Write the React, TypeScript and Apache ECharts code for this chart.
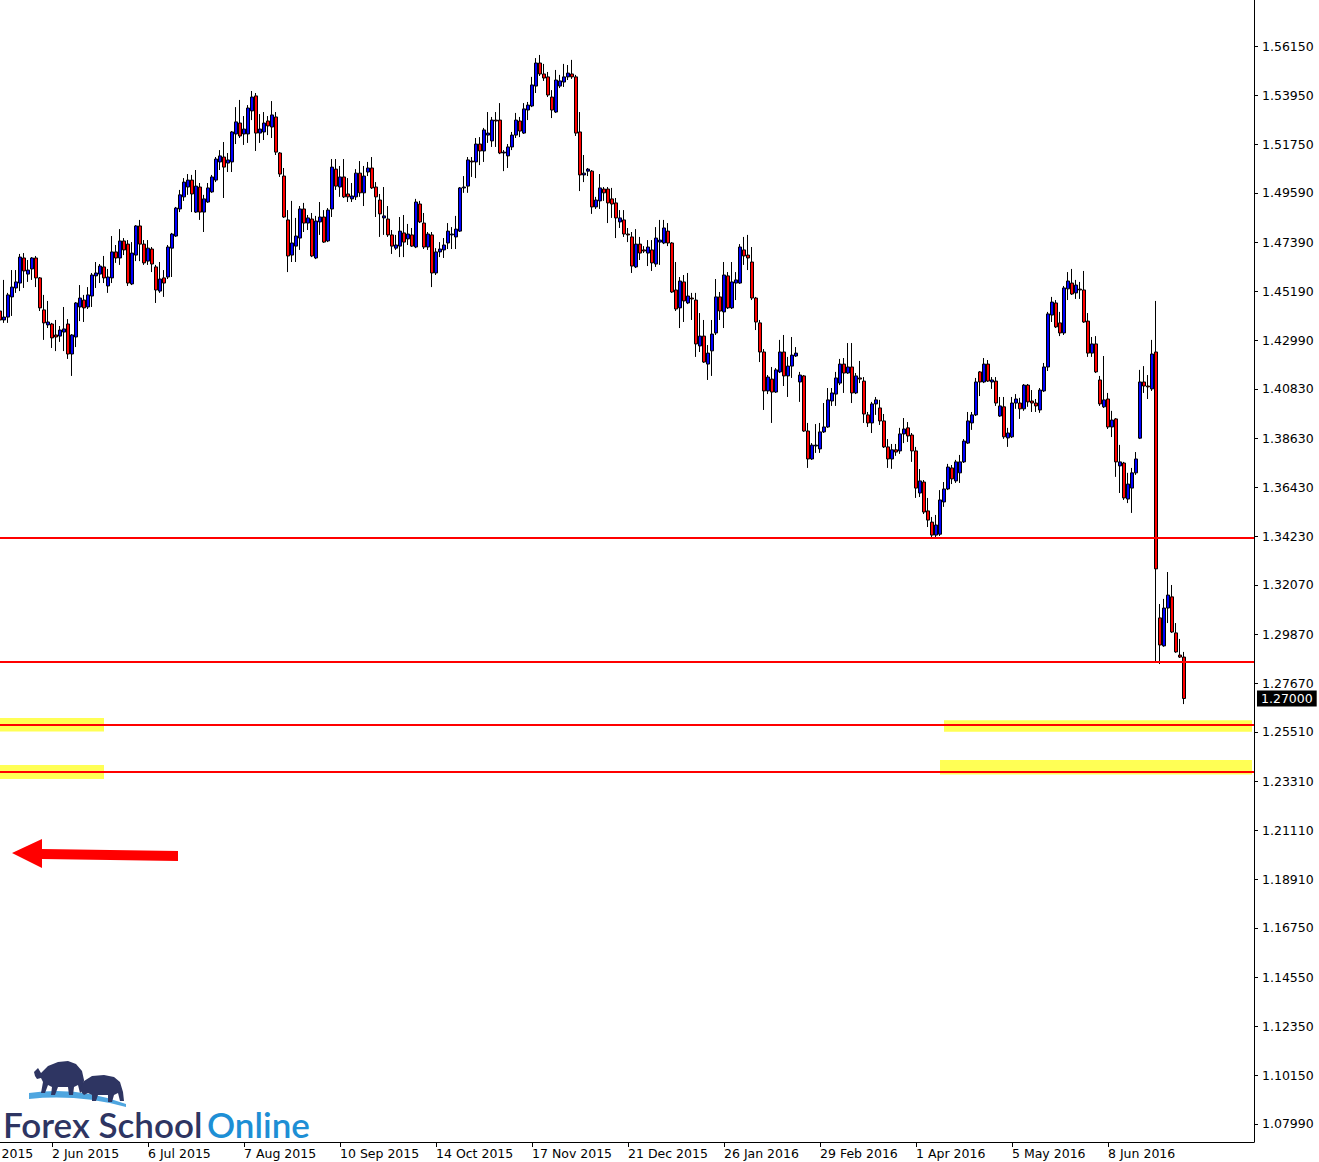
import React, { useEffect, useRef } from 'react';
import * as echarts from 'echarts';

// ---------- data ----------
const priceTickValues = [
  1.5615, 1.5395, 1.5175, 1.4959, 1.4739, 1.4519, 1.4299, 1.4083, 1.3863, 1.3643, 1.3423, 1.3207,
  1.2987, 1.2767, 1.2551, 1.2331, 1.2111, 1.1891, 1.1675, 1.1455, 1.1235, 1.1015, 1.0799,
];
const priceMin = 1.071858;
const priceMax = 1.582051;

const firstCategoryDate = '2015-04-29';
const categoryCount = 325;
const holidays = ['2015-12-25', '2016-01-01'];
const firstCandleDate = '14 May 2015';
const monthNames = ['Jan', 'Feb', 'Mar', 'Apr', 'May', 'Jun', 'Jul', 'Aug', 'Sep', 'Oct', 'Nov', 'Dec'];

// horizontal support / resistance levels
const levelLines = [1.3417, 1.2863, 1.2583, 1.2373];
const bidPrice = 1.27;

// yellow zones: [fromDate, toDate, top, bottom]
const zones: [string, string, number, number][] = [
  ['14 May 2015', '19 Jun 2015', 1.2613, 1.2552],
  ['14 May 2015', '19 Jun 2015', 1.2403, 1.234],
  ['12 Apr 2016', '28 Jul 2016', 1.2603, 1.2551],
  ['11 Apr 2016', '28 Jul 2016', 1.2425, 1.236],
];

// daily candles [open, close, low, high], 14 May 2015 .. 5 Jul 2016
const candles: number[][] = [
  [1.4431, 1.4391, 1.4355, 1.4471],
  [1.4391, 1.4404, 1.4378, 1.457],
  [1.4404, 1.4503, 1.4378, 1.4512],
  [1.4494, 1.4538, 1.4409, 1.4614],
  [1.4534, 1.4561, 1.4512, 1.4614],
  [1.4556, 1.4672, 1.452, 1.4686],
  [1.4668, 1.461, 1.4534, 1.469],
  [1.4596, 1.4614, 1.4561, 1.4659],
  [1.4619, 1.4668, 1.457, 1.4672],
  [1.4668, 1.4579, 1.4538, 1.4677],
  [1.4579, 1.4445, 1.4431, 1.4583],
  [1.4436, 1.4378, 1.4302, 1.4503],
  [1.4369, 1.4382, 1.4355, 1.4476],
  [1.4373, 1.4311, 1.4266, 1.4378],
  [1.4324, 1.4315, 1.4252, 1.4391],
  [1.4319, 1.4346, 1.4293, 1.4364],
  [1.4337, 1.4351, 1.4252, 1.4449],
  [1.4373, 1.4239, 1.4217, 1.4395],
  [1.4239, 1.4324, 1.4141, 1.4328],
  [1.4315, 1.4467, 1.427, 1.4471],
  [1.4449, 1.4489, 1.4386, 1.4547],
  [1.448, 1.4445, 1.4382, 1.4503],
  [1.4449, 1.4503, 1.444, 1.4538],
  [1.4498, 1.4592, 1.4449, 1.4601],
  [1.4588, 1.4601, 1.4534, 1.465],
  [1.4596, 1.4632, 1.4556, 1.4641],
  [1.4628, 1.4579, 1.4556, 1.4677],
  [1.4543, 1.4583, 1.4512, 1.4619],
  [1.4579, 1.4695, 1.4556, 1.4766],
  [1.4695, 1.4668, 1.4646, 1.4726],
  [1.4668, 1.4744, 1.4637, 1.4797],
  [1.4744, 1.4704, 1.4681, 1.4757],
  [1.473, 1.4556, 1.4543, 1.4748],
  [1.4552, 1.469, 1.4547, 1.4739],
  [1.4681, 1.4811, 1.4654, 1.4815],
  [1.4811, 1.473, 1.4654, 1.4838],
  [1.473, 1.4646, 1.4637, 1.4748],
  [1.4654, 1.4712, 1.4637, 1.4748],
  [1.4708, 1.4641, 1.4605, 1.4717],
  [1.4628, 1.4525, 1.4467, 1.4637],
  [1.452, 1.4574, 1.4512, 1.465],
  [1.4579, 1.4556, 1.4494, 1.4614],
  [1.4583, 1.4717, 1.4574, 1.4726],
  [1.4712, 1.4775, 1.4583, 1.478],
  [1.4766, 1.4891, 1.4762, 1.4896],
  [1.4887, 1.495, 1.4873, 1.4972],
  [1.4941, 1.5007, 1.4923, 1.5025],
  [1.4985, 1.5016, 1.495, 1.5043],
  [1.5016, 1.4954, 1.4873, 1.5039],
  [1.4873, 1.4989, 1.4869, 1.5061],
  [1.4985, 1.4873, 1.4838, 1.5003],
  [1.4873, 1.4932, 1.4784, 1.495],
  [1.4918, 1.4981, 1.4914, 1.5003],
  [1.4963, 1.503, 1.4959, 1.5039],
  [1.5016, 1.511, 1.5007, 1.5119],
  [1.5097, 1.5124, 1.5061, 1.515],
  [1.5119, 1.5074, 1.4936, 1.5186],
  [1.5092, 1.5106, 1.5052, 1.5137],
  [1.5097, 1.5231, 1.5052, 1.5235],
  [1.5222, 1.5276, 1.5177, 1.5342],
  [1.5271, 1.5213, 1.5204, 1.5374],
  [1.5222, 1.5244, 1.5173, 1.5302],
  [1.5222, 1.5338, 1.5182, 1.5351],
  [1.5325, 1.5387, 1.5284, 1.5414],
  [1.5392, 1.5226, 1.5146, 1.5405],
  [1.5226, 1.5244, 1.5182, 1.5311],
  [1.5231, 1.5271, 1.5195, 1.532],
  [1.528, 1.5258, 1.5217, 1.5302],
  [1.5253, 1.5307, 1.5204, 1.5369],
  [1.5298, 1.5141, 1.5128, 1.532],
  [1.5137, 1.5043, 1.503, 1.5141],
  [1.5034, 1.4851, 1.4847, 1.507],
  [1.4838, 1.4677, 1.4605, 1.4882],
  [1.4681, 1.4735, 1.465, 1.4923],
  [1.4721, 1.4766, 1.465, 1.4847],
  [1.4757, 1.4887, 1.4704, 1.49],
  [1.4887, 1.4824, 1.4784, 1.4914],
  [1.4824, 1.4847, 1.4793, 1.486],
  [1.4842, 1.4677, 1.4672, 1.4869],
  [1.4668, 1.4833, 1.4663, 1.4856],
  [1.4829, 1.4851, 1.4771, 1.4918],
  [1.4851, 1.4739, 1.4735, 1.4882],
  [1.4744, 1.4882, 1.4739, 1.4891],
  [1.4887, 1.5074, 1.4851, 1.511],
  [1.5065, 1.4989, 1.4972, 1.511],
  [1.4985, 1.503, 1.4941, 1.5079],
  [1.503, 1.4941, 1.4936, 1.511],
  [1.4954, 1.4941, 1.4918, 1.5025],
  [1.4932, 1.4945, 1.4918, 1.5003],
  [1.4941, 1.5047, 1.4927, 1.5065],
  [1.5047, 1.4959, 1.4941, 1.5101],
  [1.4959, 1.5034, 1.49, 1.5079],
  [1.5052, 1.507, 1.5034, 1.5097],
  [1.507, 1.4981, 1.4976, 1.5119],
  [1.4985, 1.4941, 1.4851, 1.5007],
  [1.4927, 1.4865, 1.4762, 1.4954],
  [1.4847, 1.4856, 1.4771, 1.4985],
  [1.4842, 1.4771, 1.4762, 1.49],
  [1.4771, 1.4721, 1.4686, 1.4793],
  [1.4712, 1.4726, 1.4704, 1.4771],
  [1.4721, 1.4788, 1.4672, 1.4851],
  [1.478, 1.4739, 1.4672, 1.486],
  [1.4753, 1.4775, 1.4726, 1.482],
  [1.4771, 1.4721, 1.4717, 1.4802],
  [1.4717, 1.4918, 1.4712, 1.4932],
  [1.4909, 1.4829, 1.4824, 1.4923],
  [1.4824, 1.4717, 1.4708, 1.4869],
  [1.4717, 1.4775, 1.4704, 1.4784],
  [1.4771, 1.4601, 1.4538, 1.4784],
  [1.4601, 1.4695, 1.4592, 1.4712],
  [1.4695, 1.4708, 1.4672, 1.4739],
  [1.4704, 1.4726, 1.4668, 1.4757],
  [1.4735, 1.4788, 1.4708, 1.4824],
  [1.4771, 1.4775, 1.4708, 1.4806],
  [1.4762, 1.4797, 1.4708, 1.4856],
  [1.4788, 1.4981, 1.4784, 1.4985],
  [1.4981, 1.4985, 1.4959, 1.5034],
  [1.4989, 1.5106, 1.4959, 1.5119],
  [1.5101, 1.5097, 1.503, 1.5119],
  [1.5097, 1.5177, 1.5025, 1.5204],
  [1.5177, 1.5146, 1.5083, 1.5208],
  [1.5146, 1.524, 1.5097, 1.5249],
  [1.5217, 1.5226, 1.5182, 1.532],
  [1.5191, 1.5284, 1.5164, 1.5298],
  [1.5284, 1.528, 1.5164, 1.532],
  [1.5284, 1.5137, 1.5132, 1.536],
  [1.5137, 1.5141, 1.5056, 1.515],
  [1.5124, 1.5164, 1.507, 1.5177],
  [1.5164, 1.5217, 1.515, 1.5231],
  [1.5217, 1.5284, 1.5204, 1.5316],
  [1.528, 1.5235, 1.5208, 1.5298],
  [1.5226, 1.5334, 1.5222, 1.536],
  [1.5329, 1.5351, 1.5284, 1.5365],
  [1.5347, 1.5441, 1.5342, 1.5477],
  [1.5436, 1.5539, 1.5405, 1.5561],
  [1.5539, 1.549, 1.5481, 1.5575],
  [1.549, 1.5472, 1.5459, 1.5535],
  [1.5477, 1.5396, 1.5387, 1.5499],
  [1.5387, 1.5329, 1.5293, 1.5418],
  [1.532, 1.5463, 1.5316, 1.5508],
  [1.5436, 1.5459, 1.5427, 1.5486],
  [1.5454, 1.5477, 1.5432, 1.5535],
  [1.5477, 1.5494, 1.5463, 1.553],
  [1.549, 1.5477, 1.5468, 1.5553],
  [1.5477, 1.5226, 1.5213, 1.5486],
  [1.5231, 1.5039, 1.4967, 1.532],
  [1.5039, 1.5047, 1.5007, 1.5128],
  [1.5056, 1.5065, 1.5034, 1.507],
  [1.5056, 1.4896, 1.4865, 1.5061],
  [1.4896, 1.4927, 1.4887, 1.4941],
  [1.4923, 1.4981, 1.4887, 1.5043],
  [1.4976, 1.4959, 1.4923, 1.4985],
  [1.4976, 1.4914, 1.4824, 1.4985],
  [1.4932, 1.4909, 1.4847, 1.4981],
  [1.4914, 1.4847, 1.4757, 1.4936],
  [1.4829, 1.4847, 1.4802, 1.4882],
  [1.4838, 1.4775, 1.4762, 1.4882],
  [1.4775, 1.4771, 1.4739, 1.4802],
  [1.4762, 1.4632, 1.4601, 1.4784],
  [1.4628, 1.473, 1.4623, 1.4797],
  [1.473, 1.469, 1.4659, 1.4762],
  [1.4704, 1.4699, 1.469, 1.4721],
  [1.469, 1.4717, 1.4632, 1.4748],
  [1.4704, 1.4646, 1.461, 1.4748],
  [1.4641, 1.4757, 1.4628, 1.4806],
  [1.4739, 1.4748, 1.4637, 1.4838],
  [1.4735, 1.4802, 1.473, 1.4838],
  [1.4788, 1.4735, 1.4721, 1.4824],
  [1.4735, 1.4516, 1.4512, 1.4739],
  [1.4525, 1.444, 1.4431, 1.465],
  [1.4445, 1.4565, 1.4355, 1.4583],
  [1.4561, 1.4476, 1.4382, 1.4592],
  [1.4467, 1.4498, 1.4462, 1.4601],
  [1.4489, 1.4485, 1.4391, 1.4512],
  [1.448, 1.4284, 1.4226, 1.4512],
  [1.4275, 1.4319, 1.4248, 1.4422],
  [1.4319, 1.4203, 1.4199, 1.4391],
  [1.4194, 1.4243, 1.4123, 1.4279],
  [1.4253, 1.4328, 1.4141, 1.4391],
  [1.4333, 1.4494, 1.4324, 1.4574],
  [1.4494, 1.4431, 1.4391, 1.4516],
  [1.4427, 1.4592, 1.4355, 1.465],
  [1.4588, 1.4445, 1.444, 1.4605],
  [1.4445, 1.4561, 1.444, 1.465],
  [1.4556, 1.457, 1.448, 1.4605],
  [1.4556, 1.4717, 1.4552, 1.473],
  [1.4704, 1.4677, 1.4637, 1.4762],
  [1.4681, 1.4668, 1.4614, 1.4771],
  [1.465, 1.4489, 1.448, 1.4717],
  [1.4489, 1.4382, 1.4346, 1.4494],
  [1.4378, 1.4248, 1.4203, 1.4391],
  [1.4248, 1.4074, 1.3989, 1.4261],
  [1.4074, 1.4136, 1.406, 1.4145],
  [1.4127, 1.4069, 1.3931, 1.4181],
  [1.4069, 1.4168, 1.4065, 1.4176],
  [1.4159, 1.4248, 1.4154, 1.4302],
  [1.4248, 1.4141, 1.4096, 1.4324],
  [1.4141, 1.4185, 1.4047, 1.4226],
  [1.4185, 1.4234, 1.4132, 1.4315],
  [1.423, 1.4243, 1.4226, 1.427],
  [1.4114, 1.4145, 1.4025, 1.4159],
  [1.4141, 1.3895, 1.3891, 1.4145],
  [1.3895, 1.377, 1.373, 1.3931],
  [1.377, 1.3832, 1.3766, 1.3841],
  [1.3828, 1.3832, 1.3797, 1.3926],
  [1.3815, 1.3891, 1.3797, 1.3931],
  [1.3891, 1.3913, 1.3886, 1.402],
  [1.3913, 1.4034, 1.3909, 1.4087],
  [1.4029, 1.4065, 1.4007, 1.4087],
  [1.406, 1.4132, 1.4007, 1.4159],
  [1.4109, 1.4194, 1.41, 1.4217],
  [1.4194, 1.4154, 1.4065, 1.4221],
  [1.4154, 1.4181, 1.415, 1.4288],
  [1.4181, 1.4065, 1.402, 1.4288],
  [1.4065, 1.4141, 1.406, 1.4154],
  [1.4132, 1.4127, 1.4109, 1.4208],
  [1.4118, 1.3971, 1.3931, 1.4136],
  [1.3967, 1.3931, 1.3913, 1.398],
  [1.3931, 1.4016, 1.3886, 1.4025],
  [1.4016, 1.4034, 1.3967, 1.4047],
  [1.3998, 1.394, 1.3922, 1.4034],
  [1.394, 1.3824, 1.3819, 1.3971],
  [1.3824, 1.377, 1.373, 1.3859],
  [1.377, 1.3811, 1.3726, 1.3837],
  [1.3811, 1.3801, 1.3784, 1.3837],
  [1.3806, 1.3882, 1.3793, 1.3909],
  [1.3882, 1.3904, 1.3841, 1.3953],
  [1.3909, 1.3873, 1.3846, 1.3935],
  [1.3877, 1.3806, 1.3757, 1.3886],
  [1.3806, 1.364, 1.3596, 1.3824],
  [1.3618, 1.3672, 1.36, 1.3725],
  [1.3667, 1.3533, 1.3524, 1.3676],
  [1.3538, 1.3497, 1.3466, 1.3596],
  [1.3488, 1.343, 1.3421, 1.3511],
  [1.343, 1.3475, 1.3421, 1.352],
  [1.3434, 1.3587, 1.3426, 1.3631],
  [1.3578, 1.3636, 1.3556, 1.3667],
  [1.3636, 1.3734, 1.3631, 1.3748],
  [1.373, 1.3681, 1.3658, 1.3743],
  [1.3672, 1.3757, 1.3663, 1.3766],
  [1.3708, 1.3757, 1.3663, 1.3788],
  [1.3757, 1.385, 1.3752, 1.3859],
  [1.3841, 1.394, 1.3837, 1.398],
  [1.3931, 1.3967, 1.39, 1.398],
  [1.3967, 1.4114, 1.3962, 1.4132],
  [1.4159, 1.4114, 1.4051, 1.4163],
  [1.4114, 1.4194, 1.4109, 1.4221],
  [1.4194, 1.4118, 1.4114, 1.4212],
  [1.4114, 1.4123, 1.4083, 1.4136],
  [1.4118, 1.402, 1.4007, 1.4136],
  [1.3962, 1.4007, 1.3958, 1.4047],
  [1.4003, 1.3869, 1.386, 1.4047],
  [1.3864, 1.3886, 1.3824, 1.3909],
  [1.3869, 1.402, 1.3864, 1.4047],
  [1.402, 1.4038, 1.3994, 1.406],
  [1.402, 1.3994, 1.3949, 1.4043],
  [1.3994, 1.41, 1.3985, 1.4105],
  [1.41, 1.4025, 1.4003, 1.4105],
  [1.4029, 1.402, 1.398, 1.4078],
  [1.402, 1.4007, 1.398, 1.4038],
  [1.3989, 1.4078, 1.3976, 1.4087],
  [1.4074, 1.4181, 1.4069, 1.4199],
  [1.4181, 1.4418, 1.4163, 1.4427],
  [1.4413, 1.4471, 1.4382, 1.4494],
  [1.4467, 1.436, 1.4355, 1.448],
  [1.4378, 1.4333, 1.4319, 1.4427],
  [1.4333, 1.4534, 1.4324, 1.4543],
  [1.453, 1.4565, 1.448, 1.4605],
  [1.4556, 1.4507, 1.4503, 1.4619],
  [1.4512, 1.4547, 1.4485, 1.457],
  [1.4529, 1.4525, 1.4485, 1.4561],
  [1.4525, 1.4382, 1.4378, 1.461],
  [1.4386, 1.4243, 1.4226, 1.4422],
  [1.4243, 1.4284, 1.4226, 1.4315],
  [1.4284, 1.4159, 1.4154, 1.4319],
  [1.4123, 1.4016, 1.4007, 1.4141],
  [1.4003, 1.4034, 1.3998, 1.423],
  [1.4038, 1.3913, 1.3904, 1.4065],
  [1.3913, 1.3944, 1.3868, 1.3985],
  [1.3949, 1.3757, 1.369, 1.3953],
  [1.3739, 1.3757, 1.3618, 1.3833],
  [1.3752, 1.3596, 1.3587, 1.3757],
  [1.3591, 1.3658, 1.3573, 1.3708],
  [1.364, 1.3708, 1.3529, 1.373],
  [1.3708, 1.377, 1.3699, 1.3801],
  [1.3863, 1.4114, 1.3859, 1.4168],
  [1.4114, 1.4096, 1.4065, 1.4185],
  [1.4096, 1.4092, 1.4038, 1.4145],
  [1.4083, 1.4239, 1.4074, 1.4302],
  [1.4248, 1.3279, 1.2859, 1.4476],
  [1.306, 1.2939, 1.2854, 1.3122],
  [1.2935, 1.3104, 1.2931, 1.3145],
  [1.3104, 1.3162, 1.3037, 1.3265],
  [1.3154, 1.2997, 1.2993, 1.3207],
  [1.2993, 1.2908, 1.2904, 1.3037],
  [1.2894, 1.2885, 1.2881, 1.2966],
  [1.2885, 1.27, 1.2675, 1.2908],
];

// ---------- logo shapes ----------
const bullPath =
  'M34 1072 L38 1068 L41 1073 L48 1066 L58 1062 L68 1061 L76 1064 L82 1071 L84 1080 L83 1090 L80 1093 L78 1085 L74 1087 L73 1095 L69 1095 L68 1087 L58 1087 L55 1095 L51 1095 L52 1087 L48 1085 L45 1093 L41 1093 L43 1082 L41 1078 L37 1079 L35 1076 Z';
const bearPath =
  'M80 1089 L84 1081 L92 1076 L104 1075 L114 1077 L120 1082 L123 1092 L124 1101 L120 1101 L118 1093 L114 1095 L112 1102 L108 1102 L108 1095 L98 1095 L96 1101 L92 1101 L92 1095 L88 1093 L84 1095 L82 1093 Z';
const swooshPath = 'M29 1093 Q78 1086 126 1104 L126 1107 Q78 1094 29 1099 Z';

let shapesRegistered = false;
function registerShapes() {
  if (shapesRegistered) return;
  echarts.graphic.registerShape('fsoBull', echarts.graphic.extendPath(bullPath, {}));
  echarts.graphic.registerShape('fsoBear', echarts.graphic.extendPath(bearPath, {}));
  echarts.graphic.registerShape('fsoSwoosh', echarts.graphic.extendPath(swooshPath, {}));
  shapesRegistered = true;
}

function buildCategories(start: string, count: number): string[] {
  const out: string[] = [];
  const d = new Date(start + 'T00:00:00Z');
  while (out.length < count) {
    const dow = d.getUTCDay();
    const iso = d.toISOString().slice(0, 10);
    if (dow !== 0 && dow !== 6 && holidays.indexOf(iso) < 0) {
      out.push(`${d.getUTCDate()} ${monthNames[d.getUTCMonth()]} ${d.getUTCFullYear()}`);
    }
    d.setUTCDate(d.getUTCDate() + 1);
  }
  return out;
}

const FONT = 'DejaVu Sans';

export default function App() {
  const ref = useRef<HTMLDivElement>(null);

  useEffect(() => {
    if (!ref.current) return;
    registerShapes();
    const chart = echarts.init(ref.current, null, { renderer: 'svg' });

    const categories = buildCategories(firstCategoryDate, categoryCount);
    const firstIdx = categories.indexOf(firstCandleDate);
    const lastIdx = firstIdx + candles.length - 1;
    const seriesData = categories.map((_, i) => {
      const k = i - firstIdx;
      return k >= 0 && k < candles.length ? candles[k] : '-';
    });
    const showTick = (index: number) => index % 24 === 0 && index <= lastIdx;

    const option: any = {
      animation: false,
      backgroundColor: '#ffffff',
      grid: { left: -46, top: 0, width: 1300, height: 1142, outerBoundsMode: 'none', containLabel: false },
      xAxis: {
        type: 'category',
        data: categories,
        boundaryGap: true,
        axisLine: { show: true, onZero: false, lineStyle: { color: '#000', width: 1 } },
        axisTick: { show: true, interval: showTick, alignWithLabel: true, length: 5, lineStyle: { color: '#000' } },
        axisLabel: {
          interval: showTick,
          align: 'left',
          margin: 5,
          color: '#000',
          fontFamily: FONT,
          fontSize: 12.5,
          hideOverlap: false,
        },
        splitLine: { show: false },
      },
      yAxis: {
        type: 'value',
        position: 'right',
        min: priceMin,
        max: priceMax,
        splitLine: { show: false },
        axisLine: { show: true, lineStyle: { color: '#000', width: 1 } },
        axisTick: { show: true, customValues: priceTickValues, length: 4, lineStyle: { color: '#000' } },
        axisLabel: {
          customValues: priceTickValues,
          formatter: (v: number) => v.toFixed(5),
          color: '#000',
          fontFamily: FONT,
          fontSize: 12.5,
          margin: 8,
        },
      },
      series: [
        {
          type: 'candlestick',
          data: seriesData,
          barWidth: 3,
          itemStyle: {
            color: '#0000ff',
            color0: '#ff0000',
            borderColor: '#000000',
            borderColor0: '#000000',
            borderColorDoji: '#000000',
            borderWidth: 1,
          },
          markArea: {
            silent: true,
            precision: 5,
            itemStyle: { color: '#ffff55' },
            data: zones.map((z) => [
              { xAxis: z[0], yAxis: z[2] },
              { xAxis: z[1], yAxis: z[3] },
            ]),
          },
          markLine: {
            silent: true,
            precision: 5,
            symbol: ['none', 'none'],
            animation: false,
            label: { show: false },
            lineStyle: { color: '#ff0000', width: 2, type: 'solid' },
            data: [
              ...levelLines.map((v) => ({ yAxis: v })),
              {
                yAxis: bidPrice,
                lineStyle: { color: 'rgba(0,0,0,0)', width: 1 },
                label: {
                  show: true,
                  position: 'end',
                  distance: 3,
                  formatter: () => bidPrice.toFixed(5),
                  color: '#ffffff',
                  backgroundColor: '#000000',
                  padding: [2, 4, 1, 4],
                  fontFamily: FONT,
                  fontSize: 12.5,
                },
              },
            ],
          },
        },
      ],
      graphic: [
        {
          type: 'polygon',
          silent: true,
          shape: {
            points: [
              [12, 853],
              [42, 839],
              [42, 849],
              [178, 851],
              [178, 861],
              [42, 859],
              [42, 868],
            ],
          },
          style: { fill: '#ff0000' },
        },
        { type: 'fsoSwoosh', silent: true, x: 0, y: 0, style: { fill: '#4fa6e0' } },
        { type: 'fsoBull', silent: true, x: 0, y: 0, style: { fill: '#2e3562' } },
        { type: 'fsoBear', silent: true, x: 0, y: 0, style: { fill: '#2e3562' } },
        {
          type: 'text',
          silent: true,
          x: 3,
          y: 1124,
          style: {
            text: 'Forex School',
            fill: '#2e3562',
            font: '600 35px Lato',
            verticalAlign: 'middle',
            align: 'left',
          },
        },
        {
          type: 'text',
          silent: true,
          x: 207,
          y: 1124,
          style: {
            text: 'Online',
            fill: '#1e8fd5',
            font: '600 35px Lato',
            verticalAlign: 'middle',
            align: 'left',
          },
        },
      ],
    };

    chart.setOption(option);
    return () => chart.dispose();
  }, []);

  return (
    <div
      ref={ref}
      style={{ position: 'absolute', left: 0, top: 0, width: 1319, height: 1162, background: '#fff' }}
    />
  );
}
